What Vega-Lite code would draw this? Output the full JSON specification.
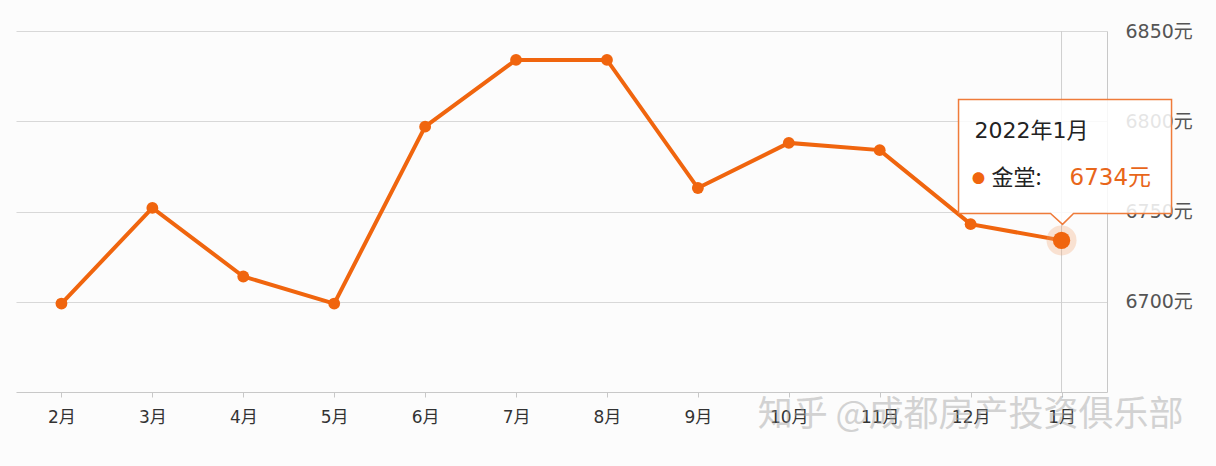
{
  "$schema": "https://vega.github.io/schema/vega-lite/v6.json",
  "width": 1091,
  "height": 361,
  "autosize": "none",
  "padding": {"left": 16, "top": 31, "right": 109, "bottom": 74},
  "background": "#fcfcfc",
  "config": {"view": {"stroke": null}, "font": "Noto Sans CJK SC"},
  "data": {
    "values": [
      {"month": "2月", "price": 6699},
      {"month": "3月", "price": 6752},
      {"month": "4月", "price": 6714},
      {"month": "5月", "price": 6699},
      {"month": "6月", "price": 6797},
      {"month": "7月", "price": 6834},
      {"month": "8月", "price": 6834},
      {"month": "9月", "price": 6763},
      {"month": "10月", "price": 6788},
      {"month": "11月", "price": 6784},
      {"month": "12月", "price": 6743},
      {"month": "1月", "price": 6734}
    ]
  },
  "encoding": {
    "x": {
      "field": "month", "type": "ordinal",
      "sort": ["2月", "3月", "4月", "5月", "6月", "7月", "8月", "9月", "10月", "11月", "12月", "1月"],
      "scale": {"type": "point", "padding": 0.5},
      "axis": {"title": null, "labelAngle": 0, "labelFontSize": 17, "labelColor": "#333", "domainColor": "#c8c8c8", "tickColor": "#c8c8c8", "tickSize": 5, "labelPadding": 12, "grid": false, "labelFont": "DejaVu Sans, Noto Sans CJK SC"}
    },
    "y": {
      "field": "price", "type": "quantitative",
      "scale": {"domain": [6650, 6850], "zero": false, "nice": false},
      "axis": {"orient": "right", "title": null, "values": [6700, 6750, 6800, 6850], "labelExpr": "datum.value + '元'", "labelFontSize": 19, "labelColor": "#555", "ticks": false, "labelPadding": 18, "domainColor": "#c8c8c8", "gridColor": "#d8d8d8", "labelAlign": "left", "labelFont": "DejaVu Sans, Noto Sans CJK SC"}
    }
  },
  "layer": [
    {
      "transform": [{"filter": "datum.month == '1月'"}],
      "mark": {"type": "rule", "color": "#cfcfcf", "strokeWidth": 1},
      "encoding": {"y": {"datum": 6850}, "y2": {"datum": 6650}}
    },
    {
      "mark": {"type": "line", "color": "#f0650e", "strokeWidth": 4}
    },
    {
      "mark": {"type": "point", "filled": true, "color": "#f0650e", "size": 140, "opacity": 1}
    },
    {
      "transform": [{"filter": "datum.month == '1月'"}],
      "mark": {"type": "point", "filled": true, "color": "#f3a26d", "size": 900, "opacity": 0.3}
    },
    {
      "transform": [{"filter": "datum.month == '1月'"}],
      "mark": {"type": "point", "filled": true, "color": "#f0650e", "size": 300, "opacity": 1}
    },
    {
      "transform": [{"filter": "datum.month == '1月'"}],
      "mark": {"type": "point", "shape": "M-1.03,-1.41 L1.10,-1.41 L1.10,-0.27 L0.12,-0.27 L0.01,-0.16 L-0.11,-0.27 L-1.03,-0.27 Z", "size": 40000, "filled": true, "fill": "#ffffff", "fillOpacity": 0.85, "stroke": "#ef7b3a", "strokeWidth": 1.5, "opacity": 1}
    },
    {
      "transform": [{"filter": "datum.month == '1月'"}],
      "mark": {"type": "text", "text": "2022年1月", "align": "left", "baseline": "middle", "dx": -87, "dy": -109, "fontSize": 22, "color": "#222", "font": "DejaVu Sans, Noto Sans CJK SC"}
    },
    {
      "transform": [{"filter": "datum.month == '1月'"}],
      "mark": {"type": "text", "text": "●", "align": "center", "baseline": "middle", "dx": -83, "dy": -61, "fontSize": 13, "color": "#f0650e"}
    },
    {
      "transform": [{"filter": "datum.month == '1月'"}],
      "mark": {"type": "text", "text": "金堂:", "align": "left", "baseline": "middle", "dx": -70, "dy": -62, "fontSize": 22, "color": "#222"}
    },
    {
      "transform": [{"filter": "datum.month == '1月'"}],
      "mark": {"type": "text", "text": "6734元", "align": "left", "baseline": "middle", "dx": 8, "dy": -62, "fontSize": 23, "color": "#e8661a", "font": "DejaVu Sans, Noto Sans CJK SC"}
    },
    {
      "transform": [{"filter": "datum.month == '12月'"}],
      "mark": {"type": "text", "text": "知乎 @成都房产投资俱乐部", "align": "center", "baseline": "middle", "dy": 23, "fontSize": 35, "color": "#a0a0a0", "opacity": 0.45},
      "encoding": {"y": {"datum": 6650}}
    }
  ]
}
